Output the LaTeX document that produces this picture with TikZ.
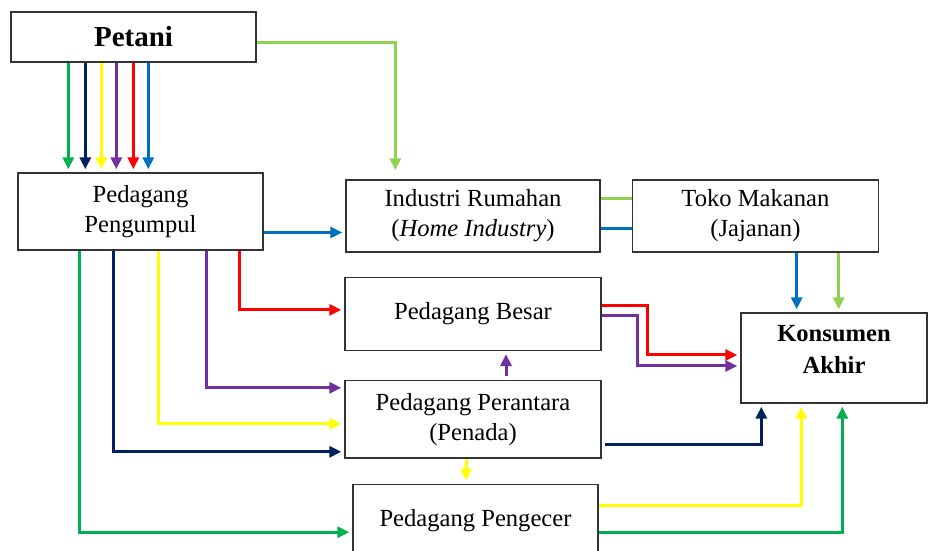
\documentclass[tikz,border=0pt]{standalone}
\usepackage{fontspec}
\setmainfont{Liberation Serif}
\usetikzlibrary{positioning, calc, arrows.meta}
\definecolor{cgreen}{HTML}{00B050}
\definecolor{cnavy}{HTML}{002060}
\definecolor{cyellow}{HTML}{FFFF00}
\definecolor{cpurple}{HTML}{7030A0}
\definecolor{cred}{HTML}{FF0000}
\definecolor{cblue}{HTML}{0070C0}
\definecolor{clime}{HTML}{92D050}

\begin{document}
\begin{tikzpicture}[x=0.5pt, y=-0.5pt,
  box/.style={draw=black!80, line width=0.7pt, align=center, inner sep=0pt, font=\fontsize{12.3}{15}\selectfont},
  flow/.style={line width=1.5pt, -{Triangle[length=6pt, width=5.5pt]}, shorten >=1.5pt},
  link/.style={line width=1.5pt}]
\useasboundingbox (0,0) rectangle (928,551);

\node[box, minimum width=122.5pt, minimum height=25pt, font=\fontsize{14.5}{17}\selectfont\bfseries] (petani) at (133.5,37) {Petani};
\node[box, minimum width=122.5pt, minimum height=38.5pt] (pengumpul) at (140.5,211.5) {Pedagang\\Pengumpul};
\node[box, minimum width=127pt, minimum height=36pt] (industri) at (473,216) {Industri Rumahan\\(\textit{Home Industry})};
\node[box, minimum width=123pt, minimum height=36pt, right=15.5pt of industri] (toko) {Toko Makanan\\(Jajanan)};
\node[box, minimum width=128pt, minimum height=36.5pt, below=12pt of industri] (besar) {Pedagang Besar};
\node[box, minimum width=128pt, minimum height=38.5pt, below=14.5pt of besar] (perantara) {Pedagang Perantara\\(Penada)};
\node[box, minimum width=122.5pt, minimum height=36pt, below=12.5pt of perantara, xshift=1.25pt] (pengecer) {Pedagang Pengecer};
\node[box, minimum width=93pt, minimum height=45pt, text depth=9pt, font=\fontsize{12.3}{16}\selectfont\bfseries] (konsumen) at (834,358) {Konsumen\\Akhir};

\foreach \dx/\col in {58/cgreen, 75/cnavy, 91/cyellow, 106/cpurple, 123/cred, 138/cblue}{
  \path ($(petani.south west)+(\dx,0)$) coordinate (top);
  \draw[flow, \col] (top) -- (top |- pengumpul.north);
}
\draw[flow, clime] ($(petani.east)+(0,6)$) -| ($(industri.north west)+(50,-6)$);
\draw[flow, cblue] ($(pengumpul.east)+(0,21)$) coordinate (pb) -- (pb -| industri.west);

\draw[flow, cred] ($(pengumpul.south west)+(222,0)$) |- ($(besar.west)+(0,-4)$);
\draw[flow, cpurple] ($(pengumpul.south west)+(189,0)$) |- ($(perantara.west)+(0,-31.5)$);
\draw[flow, cyellow] ($(pengumpul.south west)+(141,0)$) |- ($(perantara.west)+(0,4.5)$);
\draw[flow, cnavy] ($(pengumpul.south west)+(96,0)$) |- ($(perantara.west)+(0,32.5)$);
\draw[flow, cgreen] ($(pengumpul.south west)+(62,0)$) |- ($(pengecer.west)+(0,12)$);

\draw[link, clime] ($(industri.east)+(0,-17)$) -- ($(toko.west)+(0,-17)$);
\draw[link, cblue] ($(industri.east)+(0,13)$) -- ($(toko.west)+(0,13)$);

\path ($(toko.south west)+(165,0)$) coordinate (tb);
\draw[flow, cblue] (tb) -- (tb |- konsumen.north);
\path ($(toko.south west)+(207,0)$) coordinate (tl);
\draw[flow, clime] (tl) -- (tl |- konsumen.north);

\draw[flow, cred] ($(besar.east)+(0,-8.5)$) -- ++(46,0) |- ($(konsumen.west)+(0,-3)$);
\draw[flow, cpurple] ($(besar.east)+(0,2)$) -- ++(36,0) |- ($(konsumen.west)+(0,8)$);

\path ($(perantara.north)+(33,-4)$) coordinate (pu);
\draw[flow, cpurple] (pu) -- (pu |- besar.south);
\path ($(perantara.south)+(-7,0)$) coordinate (pd);
\draw[flow, cyellow] (pd) -- (pd |- pengecer.north);

\draw[flow, cnavy] ($(perantara.east)+(3,25.5)$) -| ($(konsumen.south west)+(21,0)$);
\draw[flow, cyellow] ($(pengecer.east)+(0,-15)$) -| ($(konsumen.south west)+(61,0)$);
\draw[flow, cgreen] ($(pengecer.east)+(0,12)$) -| ($(konsumen.south west)+(102,0)$);
\end{tikzpicture}
\end{document}
